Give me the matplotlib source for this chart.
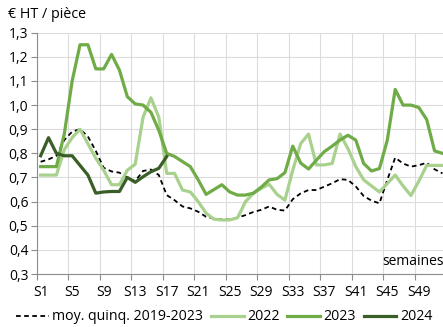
import numpy as np
import matplotlib
matplotlib.use("Agg")
import matplotlib.pyplot as plt

plt.rcParams['font.family'] = ['Open Sans', 'DejaVu Sans']

# weekly prices, euro HT per piece
weeks = list(range(1, 53))
avg_2019_2023 = [0.765, 0.775, 0.79, 0.855, 0.89, 0.90, 0.87, 0.81, 0.74, 0.725,
                 0.72, 0.70, 0.685, 0.727, 0.733, 0.71, 0.627, 0.606, 0.58, 0.572,
                 0.558, 0.537, 0.53, 0.526, 0.526, 0.534, 0.544, 0.557, 0.566, 0.58,
                 0.566, 0.563, 0.61, 0.634, 0.648, 0.648, 0.662, 0.676, 0.693, 0.69,
                 0.663, 0.623, 0.604, 0.593, 0.69, 0.782, 0.758, 0.745, 0.751, 0.761,
                 0.734, 0.717]
y2022 = [0.71, 0.71, 0.71, 0.815, 0.865, 0.90, 0.84, 0.78, 0.73, 0.67,
         0.67, 0.73, 0.755, 0.95, 1.03, 0.95, 0.717, 0.717, 0.648, 0.64,
         0.60, 0.552, 0.527, 0.524, 0.524, 0.533, 0.60, 0.634, 0.655, 0.672,
         0.63, 0.606, 0.73, 0.84, 0.88, 0.752, 0.752, 0.758, 0.88, 0.82,
         0.745, 0.69, 0.665, 0.64, 0.675, 0.71, 0.665, 0.625, 0.685, 0.75,
         0.75, 0.75]
y2023 = [0.745, 0.745, 0.745, 0.88, 1.10, 1.25, 1.25, 1.15, 1.15, 1.21,
         1.145, 1.035, 1.005, 1.0, 0.97, 0.895, 0.80, 0.787, 0.766, 0.745,
         0.69, 0.63, 0.65, 0.67, 0.64, 0.627, 0.627, 0.635, 0.66, 0.69,
         0.695, 0.72, 0.83, 0.76, 0.735, 0.772, 0.807, 0.83, 0.855, 0.875,
         0.855, 0.758, 0.727, 0.737, 0.855, 1.065, 1.0, 1.0, 0.99, 0.94,
         0.81, 0.80]
weeks_2024 = list(range(1, 18))
y2024 = [0.79, 0.865, 0.80, 0.79, 0.79, 0.75, 0.71, 0.635, 0.64, 0.642,
         0.642, 0.70, 0.68, 0.703, 0.724, 0.738, 0.787]

label_weeks = [1, 5, 9, 13, 17, 21, 25, 29, 33, 37, 41, 45, 49]
yticks = [0.3, 0.4, 0.5, 0.6, 0.7, 0.8, 0.9, 1.0, 1.1, 1.2, 1.3]

W, H = 443, 327
fig = plt.figure(figsize=(W / 100, H / 100), dpi=100)
ax = fig.add_axes([36.7 / W, 1 - 274 / H, (446.4 - 36.7) / W, (274 - 32.7) / H])

c22, c23, c24 = '#a9d18e', '#6fab46', '#3a5e27'
ax.plot(weeks, avg_2019_2023, color='black', lw=1.3, dashes=(2.6, 1.9),
        label='moy. quinq. 2019-2023')
ax.plot(weeks, y2022, color=c22, lw=2.3, label='2022')
ax.plot(weeks, y2023, color=c23, lw=2.3, label='2023')
ax.plot(weeks_2024, y2024, color=c24, lw=2.3, label='2024')

ax.set_xlim(0.5, 52.5)
ax.set_ylim(0.3, 1.3)

# gridlines / tick marks on week boundaries, labels centred on weeks
ax.set_xticks([w - 0.5 for w in label_weeks])
ax.set_xticklabels([])
ax.set_xticks(label_weeks, minor=True)
ax.set_xticklabels([f"S{w}" for w in label_weeks], minor=True, fontsize=10)
ax.tick_params(axis='x', which='major', length=4, color='#8c8c8c')
ax.tick_params(axis='x', which='minor', length=0, pad=8)

ax.set_yticks(yticks)
ax.set_yticklabels([f"{v:.1f}".replace('.', ',') for v in yticks], fontsize=10)
ax.tick_params(axis='y', length=4, color='#8c8c8c', pad=2)

ax.grid(True, which='major', color='#dcdcdc', lw=0.8)
ax.set_axisbelow(True)
for s in ['top', 'right']:
    ax.spines[s].set_visible(False)
for s in ['left', 'bottom']:
    ax.spines[s].set_color('#8c8c8c')
    ax.spines[s].set_linewidth(0.8)

fig.text(8 / W, 1 - 18.5 / H, "€ HT / pièce", fontsize=10.3, va='baseline', ha='left')
fig.text(382 / W, 1 - 265 / H, "semaines", fontsize=10, va='baseline', ha='left')

fig.legend(loc='center left', bbox_to_anchor=(16 / W, 1 - 317 / H), ncol=4,
           frameon=False, fontsize=10.2, handlelength=2.3, handletextpad=0.25,
           columnspacing=0.55, borderaxespad=0, borderpad=0)

fig.savefig('out.png', dpi=100)
